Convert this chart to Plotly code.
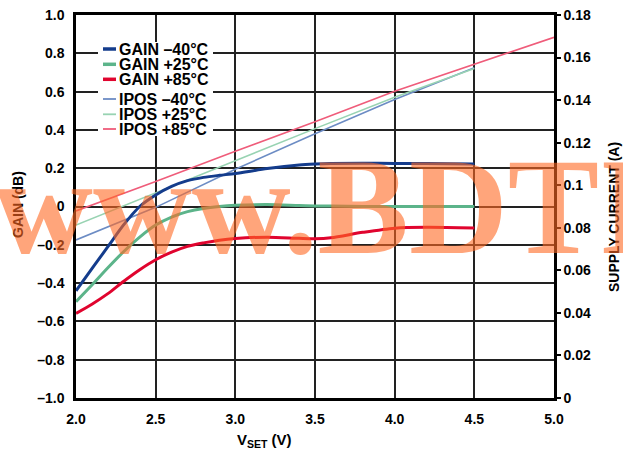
import plotly.graph_objects as go

# ---------------- data ----------------
vset_gain = [2.0, 2.1, 2.2, 2.3, 2.4, 2.5, 2.6, 2.7, 2.8, 2.9, 3.0, 3.2, 3.4, 3.5, 3.6, 3.8, 4.0, 4.2, 4.5]
gain_m40 = [-0.44, -0.325, -0.21, -0.095, 0.0, 0.06, 0.105, 0.135, 0.152, 0.163, 0.172, 0.198, 0.217,
            0.222, 0.225, 0.226, 0.225, 0.224, 0.222]
gain_p25 = [-0.497, -0.41, -0.32, -0.235, -0.16, -0.097, -0.055, -0.027, -0.01, 0.0, 0.006, 0.01, 0.005,
            0.003, 0.002, 0.0, 0.0, 0.0, 0.0]
gain_p85 = [-0.558, -0.51, -0.455, -0.39, -0.33, -0.278, -0.238, -0.208, -0.19, -0.176, -0.167, -0.16,
            -0.166, -0.168, -0.163, -0.135, -0.113, -0.108, -0.112]

vset_ipos = [2.0, 2.5, 3.0, 3.5, 4.0, 4.5]
ipos_m40 = [0.0743, 0.0896, 0.1075, 0.1242, 0.1403, 0.1552]
ipos_p25 = [0.0813, 0.0964, 0.1115, 0.1266, 0.1413, 0.1548]
vset_ipos85 = [2.0, 2.5, 3.0, 3.5, 4.0, 4.5, 5.0]
ipos_p85 = [0.0879, 0.1017, 0.1160, 0.1298, 0.1442, 0.1570, 0.1695]

x_ticks = [2.0, 2.5, 3.0, 3.5, 4.0, 4.5, 5.0]
x_ticktext = ["2.0", "2.5", "3.0", "3.5", "4.0", "4.5", "5.0"]
gain_ticks = [1.0, 0.8, 0.6, 0.4, 0.2, 0.0, -0.2, -0.4, -0.6, -0.8, -1.0]
gain_ticktext = ["1.0", "0.8", "0.6", "0.4", "0.2", "0", "–0.2", "–0.4", "–0.6", "–0.8", "–1.0"]
curr_ticks = [0.18, 0.16, 0.14, 0.12, 0.10, 0.08, 0.06, 0.04, 0.02, 0.0]
curr_ticktext = ["0.18", "0.16", "0.14", "0.12", "0.1", "0.08", "0.06", "0.04", "0.02", "0"]

legend_names = ["GAIN –40°C", "GAIN +25°C", "GAIN +85°C", "IPOS –40°C", "IPOS +25°C", "IPOS +85°C"]

# ---------------- styles ----------------
C_G40, C_G25, C_G85 = "#143c8c", "#5cb48a", "#e0042e"
C_I40, C_I25, C_I85 = "#6c8cc4", "#98d3b2", "#ef5c7a"
FONT = "Liberation Sans, Arial, Helvetica, sans-serif"

fig = go.Figure()

# IPOS on primary y (right side) -> drawn below
for xs, ys, c, n in [(vset_ipos, ipos_m40, C_I40, legend_names[3]),
                     (vset_ipos, ipos_p25, C_I25, legend_names[4]),
                     (vset_ipos85, ipos_p85, C_I85, legend_names[5])]:
    fig.add_trace(go.Scatter(x=xs, y=ys, mode="lines", name=n, yaxis="y",
                             line=dict(color=c, width=1.6), showlegend=False))

# GAIN on overlaying y2 (left side) -> drawn on top
for ys, c, n in [(gain_m40, C_G40, legend_names[0]),
                 (gain_p25, C_G25, legend_names[1]),
                 (gain_p85, C_G85, legend_names[2])]:
    fig.add_trace(go.Scatter(x=vset_gain, y=ys, mode="lines", name=n, yaxis="y2",
                             line=dict(color=c, width=3, shape="spline", smoothing=0.8),
                             showlegend=False))

tickfont = dict(family=FONT, size=14, color="black", weight="bold")

fig.update_layout(
    width=623, height=454,
    margin=dict(l=76, r=69, t=15, b=56, autoexpand=False),
    paper_bgcolor="white", plot_bgcolor="white",
    showlegend=False,
    xaxis=dict(range=[2.0, 5.0], tickvals=x_ticks, ticktext=x_ticktext,
               showgrid=True, gridcolor="#222222", gridwidth=1.5,
               showline=True, linecolor="black", linewidth=2.5, mirror=True,
               ticks="", tickfont=tickfont, zeroline=False, ticklabelstandoff=6,
               automargin=False),
    yaxis=dict(range=[0, 0.18], side="right", tickvals=curr_ticks, ticktext=curr_ticktext,
               showgrid=False, zeroline=False, showline=True, linecolor="black", linewidth=2.5,
               ticks="outside", ticklen=4, tickwidth=2, tickcolor="black", tickfont=tickfont,
               automargin=False),
    yaxis2=dict(range=[-1.0, 1.0], side="left", overlaying="y", tickvals=gain_ticks,
                ticktext=gain_ticktext, showgrid=True, gridcolor="#222222", gridwidth=1.5,
                zeroline=False, showline=True, linecolor="black", linewidth=2.5,
                ticks="", tickfont=tickfont, ticklabelstandoff=6, automargin=False),
    yaxis3=dict(range=[0, 0.18], side="right", overlaying="y", tickvals=curr_ticks,
                showticklabels=False, showgrid=False, zeroline=False, showline=False,
                ticks="inside", ticklen=4, tickwidth=2, tickcolor="black", automargin=False),
)

# custom legend (white box, short samples, bold labels)
shapes = [dict(type="rect", xref="paper", yref="paper",
               x0=(98 - 76) / 478, x1=(213 - 76) / 478,
               y0=(398 - 136) / 383, y1=(398 - 42) / 383,
               fillcolor="white", line=dict(width=0), layer="above")]
leg_y = [49, 64.3, 79.3, 99, 114.3, 129]
leg_c = [C_G40, C_G25, C_G85, C_I40, C_I25, C_I85]
leg_w = [3.5, 3.5, 3.5, 1.8, 1.8, 1.8]
annotations = []
for name, yy, c, w in zip(legend_names, leg_y, leg_c, leg_w):
    py = (398 - yy) / 383
    shapes.append(dict(type="line", xref="paper", yref="paper",
                       x0=(103 - 76) / 478, x1=(116 - 76) / 478, y0=py, y1=py,
                       line=dict(color=c, width=w), layer="above"))
    annotations.append(dict(text=name, xref="paper", yref="paper", x=(117 - 76) / 478, y=py,
                            xanchor="left", yanchor="middle", showarrow=False,
                            font=dict(family=FONT, size=16, color="black", weight="bold")))

# axis titles
annotations.append(dict(text="GAIN (dB)", xref="paper", yref="paper", x=(18 - 76) / 478,
                        y=(398 - 205) / 383, textangle=-90, showarrow=False,
                        xanchor="center", yanchor="middle",
                        font=dict(family=FONT, size=14, color="black", weight="bold")))
annotations.append(dict(text="SUPPLY CURRENT (A)", xref="paper", yref="paper", x=(614 - 76) / 478,
                        y=(398 - 217) / 383, textangle=-90, showarrow=False,
                        xanchor="center", yanchor="middle",
                        font=dict(family=FONT, size=14, color="black", weight="bold")))
annotations.append(dict(text="V<sub>SET</sub> (V)", xref="paper", yref="paper", x=(264 - 76) / 478,
                        y=-(440 - 398) / 383, showarrow=False, xanchor="center", yanchor="middle",
                        font=dict(family=FONT, size=15, color="black", weight="bold")))

# watermark
annotations.append(dict(text="www.BDTIC.com", xref="paper", yref="paper", x=(-8 - 76) / 478,
                        y=(398 - 207) / 383, xanchor="left", yanchor="middle", showarrow=False,
                        font=dict(family="Liberation Serif, Times New Roman, serif", size=137,
                                  color="rgba(255,105,35,0.6)", weight="bold")))

fig.update_layout(shapes=shapes, annotations=annotations)
fig.write_html("out.html", config={"displayModeBar": False},
               post_script="document.body.style.margin='0';document.body.style.overflow='hidden';")
